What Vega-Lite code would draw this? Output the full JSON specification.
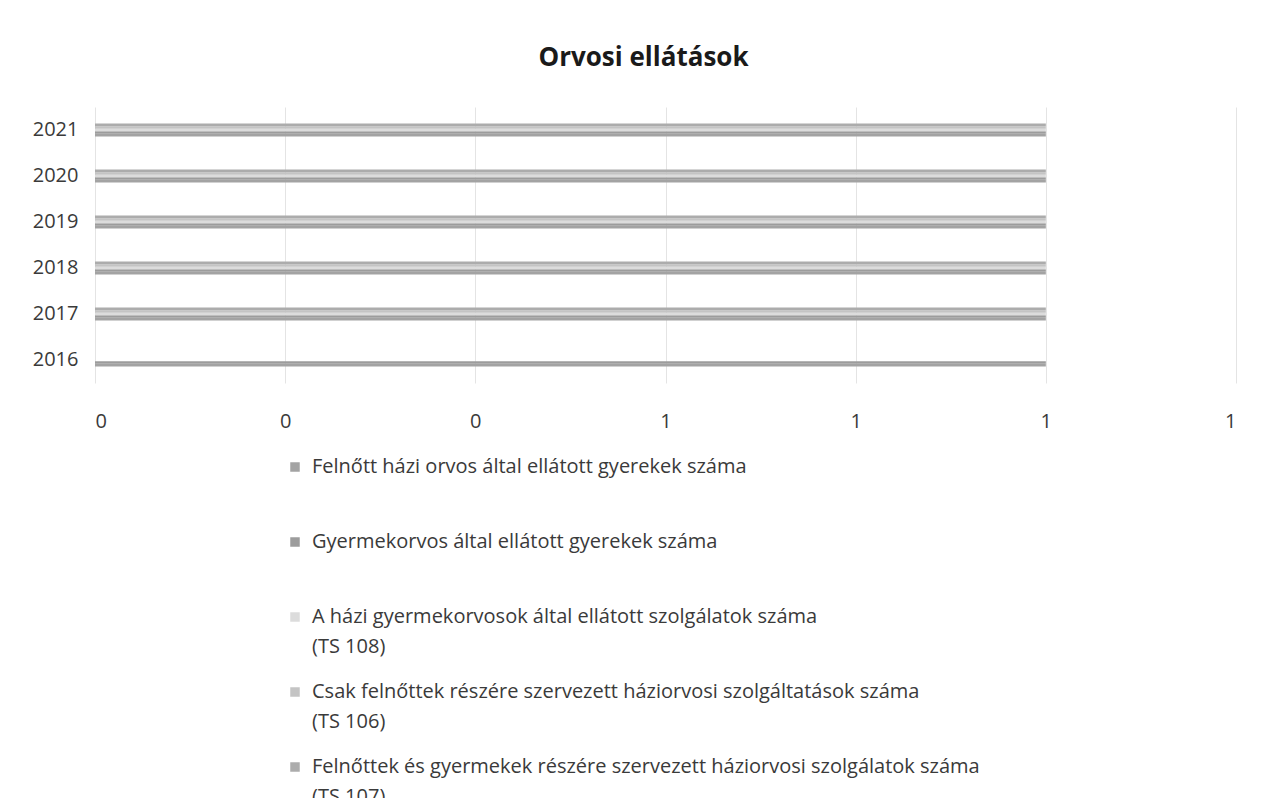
{
  "$schema": "https://vega.github.io/schema/vega-lite/v6.json",
  "autosize": {"type": "none"},
  "width": 1141,
  "height": 276,
  "padding": {"left": 95, "top": 107, "right": 38, "bottom": 415},
  "background": "white",
  "title": {
    "text": "Orvosi ellátások",
    "font": "Open Sans",
    "fontSize": 26,
    "fontWeight": "bold",
    "color": "#1a1a1a",
    "anchor": "middle",
    "dx": -22,
    "offset": 36
  },
  "data": {
    "values": [
      {"ev": "2016", "sorozat": "Felnőtt házi orvos által ellátott gyerekek száma", "ertek": 1},
      {"ev": "2016", "sorozat": "Gyermekorvos által ellátott gyerekek száma", "ertek": 1},
      {"ev": "2016", "sorozat": "A házi gyermekorvosok által ellátott szolgálatok száma (TS 108)", "ertek": 0},
      {"ev": "2016", "sorozat": "Csak felnőttek részére szervezett háziorvosi szolgáltatások száma (TS 106)", "ertek": 0},
      {"ev": "2016", "sorozat": "Felnőttek és gyermekek részére szervezett háziorvosi szolgálatok száma (TS 107)", "ertek": 0},
      {"ev": "2017", "sorozat": "Felnőtt házi orvos által ellátott gyerekek száma", "ertek": 1},
      {"ev": "2017", "sorozat": "Gyermekorvos által ellátott gyerekek száma", "ertek": 1},
      {"ev": "2017", "sorozat": "A házi gyermekorvosok által ellátott szolgálatok száma (TS 108)", "ertek": 1},
      {"ev": "2017", "sorozat": "Csak felnőttek részére szervezett háziorvosi szolgáltatások száma (TS 106)", "ertek": 1},
      {"ev": "2017", "sorozat": "Felnőttek és gyermekek részére szervezett háziorvosi szolgálatok száma (TS 107)", "ertek": 1},
      {"ev": "2018", "sorozat": "Felnőtt házi orvos által ellátott gyerekek száma", "ertek": 1},
      {"ev": "2018", "sorozat": "Gyermekorvos által ellátott gyerekek száma", "ertek": 1},
      {"ev": "2018", "sorozat": "A házi gyermekorvosok által ellátott szolgálatok száma (TS 108)", "ertek": 1},
      {"ev": "2018", "sorozat": "Csak felnőttek részére szervezett háziorvosi szolgáltatások száma (TS 106)", "ertek": 1},
      {"ev": "2018", "sorozat": "Felnőttek és gyermekek részére szervezett háziorvosi szolgálatok száma (TS 107)", "ertek": 1},
      {"ev": "2019", "sorozat": "Felnőtt házi orvos által ellátott gyerekek száma", "ertek": 1},
      {"ev": "2019", "sorozat": "Gyermekorvos által ellátott gyerekek száma", "ertek": 1},
      {"ev": "2019", "sorozat": "A házi gyermekorvosok által ellátott szolgálatok száma (TS 108)", "ertek": 1},
      {"ev": "2019", "sorozat": "Csak felnőttek részére szervezett háziorvosi szolgáltatások száma (TS 106)", "ertek": 1},
      {"ev": "2019", "sorozat": "Felnőttek és gyermekek részére szervezett háziorvosi szolgálatok száma (TS 107)", "ertek": 1},
      {"ev": "2020", "sorozat": "Felnőtt házi orvos által ellátott gyerekek száma", "ertek": 1},
      {"ev": "2020", "sorozat": "Gyermekorvos által ellátott gyerekek száma", "ertek": 1},
      {"ev": "2020", "sorozat": "A házi gyermekorvosok által ellátott szolgálatok száma (TS 108)", "ertek": 1},
      {"ev": "2020", "sorozat": "Csak felnőttek részére szervezett háziorvosi szolgáltatások száma (TS 106)", "ertek": 1},
      {"ev": "2020", "sorozat": "Felnőttek és gyermekek részére szervezett háziorvosi szolgálatok száma (TS 107)", "ertek": 1},
      {"ev": "2021", "sorozat": "Felnőtt házi orvos által ellátott gyerekek száma", "ertek": 1},
      {"ev": "2021", "sorozat": "Gyermekorvos által ellátott gyerekek száma", "ertek": 1},
      {"ev": "2021", "sorozat": "A házi gyermekorvosok által ellátott szolgálatok száma (TS 108)", "ertek": 1},
      {"ev": "2021", "sorozat": "Csak felnőttek részére szervezett háziorvosi szolgáltatások száma (TS 106)", "ertek": 1},
      {"ev": "2021", "sorozat": "Felnőttek és gyermekek részére szervezett háziorvosi szolgálatok száma (TS 107)", "ertek": 1}
    ]
  },
  "mark": {"type": "bar", "cornerRadius": 0},
  "encoding": {
    "y": {
      "field": "ev",
      "type": "nominal",
      "sort": "descending",
      "scale": {"paddingInner": 0.72, "paddingOuter": 0.36},
      "axis": {
        "title": null,
        "domain": false,
        "ticks": false,
        "labelFont": "Open Sans",
        "labelFontSize": 20,
        "labelColor": "#3a3a3a",
        "labelPadding": 17
      }
    },
    "yOffset": {
      "field": "sorozat",
      "type": "nominal",
      "sort": [
        "Felnőttek és gyermekek részére szervezett háziorvosi szolgálatok száma (TS 107)",
        "Csak felnőttek részére szervezett háziorvosi szolgáltatások száma (TS 106)",
        "A házi gyermekorvosok által ellátott szolgálatok száma (TS 108)",
        "Gyermekorvos által ellátott gyerekek száma",
        "Felnőtt házi orvos által ellátott gyerekek száma"
      ],
      "scale": {"paddingInner": 0, "paddingOuter": 0}
    },
    "x": {
      "field": "ertek",
      "type": "quantitative",
      "scale": {"domain": [0, 1.2], "nice": false},
      "axis": {
        "title": null,
        "domain": false,
        "ticks": false,
        "values": [0, 0.2, 0.4, 0.6, 0.8, 1.0, 1.2],
        "labelExpr": "toString(round(datum.value))",
        "labelOverlap": false,
        "grid": true,
        "gridColor": "#e4e4e4",
        "gridWidth": 1,
        "labelFont": "Open Sans",
        "labelFontSize": 20,
        "labelColor": "#3a3a3a",
        "labelPadding": 28
      }
    },
    "color": {
      "field": "sorozat",
      "type": "nominal",
      "sort": [
        "Felnőtt házi orvos által ellátott gyerekek száma",
        "Gyermekorvos által ellátott gyerekek száma",
        "A házi gyermekorvosok által ellátott szolgálatok száma (TS 108)",
        "Csak felnőttek részére szervezett háziorvosi szolgáltatások száma (TS 106)",
        "Felnőttek és gyermekek részére szervezett háziorvosi szolgálatok száma (TS 107)"
      ],
      "scale": {"range": ["#a3a3a3", "#9c9c9c", "#dcdcdc", "#c4c4c4", "#acacac"]},
      "legend": {
        "title": null,
        "orient": "none",
        "legendX": 190,
        "legendY": 350,
        "direction": "vertical",
        "symbolType": "square",
        "symbolSize": 90,
        "symbolStrokeWidth": 0,
        "labelFont": "Open Sans",
        "labelFontSize": 20,
        "labelColor": "#3a3a3a",
        "labelOffset": 7,
        "labelLimit": 1000,
        "rowPadding": 25,
        "labelExpr": "indexof(datum.label, ' (TS') > 0 ? [substring(datum.label, 0, indexof(datum.label, ' (TS')), substring(datum.label, indexof(datum.label, ' (TS') + 1)] : [datum.label, ' ']",
        "encode": {"labels": {"update": {"lineHeight": {"value": 30}}}}
      }
    }
  },
  "config": {"view": {"stroke": null}}
}
